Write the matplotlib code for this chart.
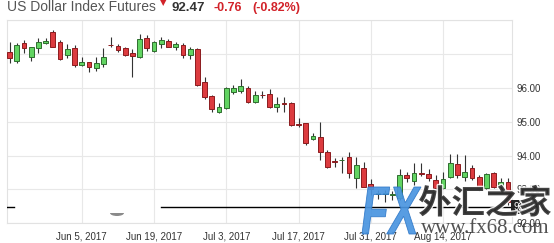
import numpy as np
import pandas as pd
import matplotlib
matplotlib.use('Agg')
import matplotlib.pyplot as plt
from matplotlib.textpath import TextPath
from matplotlib.font_manager import FontProperties
from matplotlib.patches import PathPatch, Wedge
from matplotlib.transforms import Affine2D, blended_transform_factory
import matplotlib.patheffects as pe

# daily candles, US Dollar Index futures, business days from May 22 2017
dates = pd.bdate_range('2017-05-22', periods=70)

opens = [97.07, 96.81, 97.34, 96.91, 97.17, 97.32, 97.65, 97.37, 96.98, 97.18,
         96.68, 96.76, 96.58, 96.70, 97.28, 97.24, 97.17, 97.03, 96.91, 97.47,
         97.10, 97.29, 97.40, 97.22, 97.27, 96.98, 97.15, 96.19, 95.77, 95.30,
         95.40, 95.89, 95.92, 95.99, 95.58, 95.79, 95.81, 95.43, 95.56, 95.57,
         94.94, 94.96, 94.48, 94.54, 94.12, 93.83, 93.86, 93.95, 93.33, 93.65,
         93.16, 92.87, 92.87, 92.85, 92.74, 93.43, 93.26, 93.49, 93.46, 93.29,
         93.03, 93.38, 93.75, 93.38, 93.65, 93.36, 93.03, 93.48, 93.08, 93.23]
highs = [97.37, 97.34, 97.42, 97.22, 97.47, 97.47, 97.72, 97.42, 97.30, 97.27,
         96.93, 96.78, 96.93, 97.17, 97.50, 97.29, 97.22, 97.15, 97.59, 97.57,
         97.40, 97.52, 97.44, 97.37, 97.32, 97.22, 97.18, 96.32, 95.79, 95.55,
         96.02, 96.09, 96.26, 96.06, 95.92, 95.92, 95.96, 95.74, 95.74, 95.59,
         95.10, 94.97, 94.68, 95.00, 94.17, 93.92, 93.97, 94.12, 93.97, 93.82,
         93.30, 92.98, 92.98, 92.95, 93.62, 93.52, 93.77, 93.77, 93.62, 93.43,
         93.51, 94.05, 94.05, 94.02, 93.72, 93.43, 93.49, 93.52, 93.33, 93.33]
lows = [96.73, 96.73, 97.03, 96.81, 97.04, 97.30, 97.21, 96.83, 96.88, 96.63,
        96.65, 96.48, 96.50, 96.63, 97.20, 97.07, 96.96, 96.33, 96.88, 97.10,
        97.07, 97.17, 97.20, 97.12, 96.88, 96.85, 96.06, 95.67, 95.30, 95.25,
        95.37, 95.82, 95.84, 95.57, 95.55, 95.72, 95.40, 95.30, 95.30, 94.88,
        94.84, 94.31, 94.46, 93.87, 93.65, 93.67, 93.48, 93.33, 93.03, 93.06,
        92.83, 92.71, 92.64, 92.69, 92.69, 93.23, 93.13, 93.40, 93.26, 92.98,
        93.00, 93.33, 93.33, 93.26, 93.28, 92.96, 93.00, 93.03, 93.03, 92.55]
closes = [96.88, 97.27, 97.17, 97.20, 97.37, 97.40, 97.22, 96.85, 97.15, 96.68,
          96.78, 96.61, 96.73, 96.91, 97.26, 97.12, 96.98, 96.95, 97.44, 97.17,
          97.37, 97.42, 97.22, 97.30, 96.98, 97.15, 96.09, 95.74, 95.37, 95.43,
          95.99, 95.99, 96.06, 95.58, 95.79, 95.78, 95.43, 95.53, 95.54, 94.91,
          94.92, 94.38, 94.58, 94.12, 93.67, 93.81, 93.88, 93.49, 93.72, 93.08,
          93.00, 92.91, 92.90, 92.88, 93.43, 93.33, 93.49, 93.47, 93.33, 93.03,
          93.30, 93.77, 93.43, 93.52, 93.33, 93.03, 93.46, 93.08, 93.23, 92.62]

last_price = 92.47
change = '-0.76'
change_pct = '(-0.82%)'
tick_dates = ['2017-06-05', '2017-06-19', '2017-07-03', '2017-07-17', '2017-07-31', '2017-08-14']
price_levels = [92, 93, 94, 95, 96, 97, 98]
price_labels = ['92.00', '93.00', '94.00', '95.00', '96.00', '', '']

W, H = 554, 243
fig = plt.figure(figsize=(W / 100, H / 100), dpi=100)
ax = fig.add_axes([7 / W, (H - 223.3) / H, 505 / W, 202.9 / H])

x = np.arange(len(dates))
o = np.array(opens); c = np.array(closes)
up = c >= o
face = np.where(up, '#62d462', '#dc3b3f')
edge = np.where(up, '#2f6e2f', '#8b1c1f')

ax.vlines(x, lows, highs, color='#333333', lw=0.8, zorder=2)
ax.bar(x, np.abs(c - o), bottom=np.minimum(o, c), width=0.66,
       color=face, edgecolor=edge, linewidth=0.7, zorder=3)

ax.set_xlim(-0.35, 69.55)
ax.set_ylim(92, 98)

tick_idx = [list(dates).index(pd.Timestamp(d)) for d in tick_dates]
ax.set_xticks(tick_idx)
ax.set_xticklabels([f'{pd.Timestamp(d):%b} {pd.Timestamp(d).day}, {pd.Timestamp(d).year}' for d in tick_dates],
                   fontsize=7, color='#333333', family='Liberation Sans')
ax.yaxis.tick_right()
ax.set_yticks(price_levels)
ax.set_yticklabels(price_labels, fontsize=7, color='#333333', family='Liberation Sans')
ax.tick_params(length=0)
ax.tick_params(axis='x', pad=6)
ax.tick_params(axis='y', pad=3)
ax.grid(True, color='#e8e8e8', lw=0.8, zorder=0)
ax.set_axisbelow(True)
for s in ax.spines.values():
    s.set_color('#e2e2e2')
    s.set_linewidth(0.8)

# last price line (partly hidden on the left) and its tag
ax.axhline(last_price, xmin=0, xmax=0.014, color='black', lw=1, zorder=4)
ax.axhline(last_price, xmin=0.305, xmax=1, color='black', lw=1, zorder=4)
tr = blended_transform_factory(ax.transAxes, ax.transData)
ax.text(1.002, last_price, f'{last_price:.2f}', transform=tr, fontsize=7, color='white',
        va='center', ha='left', family='Liberation Sans', zorder=5,
        bbox=dict(boxstyle='square,pad=0.2', fc='#222222', ec='none'))

fig.add_artist(Wedge((0, 0), 1, 180, 360, fc='#8a8a8a', ec='none',
                     transform=Affine2D().scale(7 / W, 3 / H).translate(117 / W, (H - 213) / H) + fig.transFigure))

# header
base = 1 - 10.7 / H
fig.text(7 / W, base, 'US Dollar Index Futures', fontsize=10, color='#555555',
         family='Liberation Sans', va='baseline')
fig.text(163 / W, 1 - 3 / H, '▼', fontsize=6, color='#d2232a', ha='center', va='center')
fig.text(171 / W, base, f'{last_price:.2f}', fontsize=9.5, color='#333333', weight='bold',
         family='Liberation Sans', va='baseline')
fig.text(213 / W, base, change, fontsize=9, color='#d2232a', weight='bold',
         family='Liberation Sans', va='baseline')
fig.text(252 / W, base, change_pct, fontsize=9, color='#d2232a', weight='bold',
         family='Liberation Sans', va='baseline')

# watermark
fp = FontProperties(family='Liberation Sans', weight='bold', style='italic')
fx_path = TextPath((0, 0), 'FX', size=100, prop=fp)
bb = fx_path.get_extents()
fx_tr = (Affine2D().translate(-bb.x0, -bb.y0)
         .scale(59 / bb.width / W, 47 / bb.height / H)
         .translate(362 / W, (H - 234) / H) + fig.transFigure)
fig.add_artist(PathPatch(fx_path, fc='#4a95e0', ec='#2f78c8', lw=0.6, alpha=0.92,
                         transform=fx_tr, zorder=10))
fig.text(485 / W, 1 - 204 / H, '外汇之家', fontsize=24, color='#2a2a2a', alpha=0.88,
         family=['Noto Sans CJK SC', 'DejaVu Sans'], weight='bold', ha='center', va='center',
         zorder=10, path_effects=[pe.withStroke(linewidth=2, foreground='white')])
fig.text(485 / W, 1 - 233 / H, 'www.fx68.com', fontsize=15, color='#333333', alpha=0.85,
         family='Liberation Serif', ha='center', va='baseline', zorder=10)

fig.savefig('out.png', dpi=100)
